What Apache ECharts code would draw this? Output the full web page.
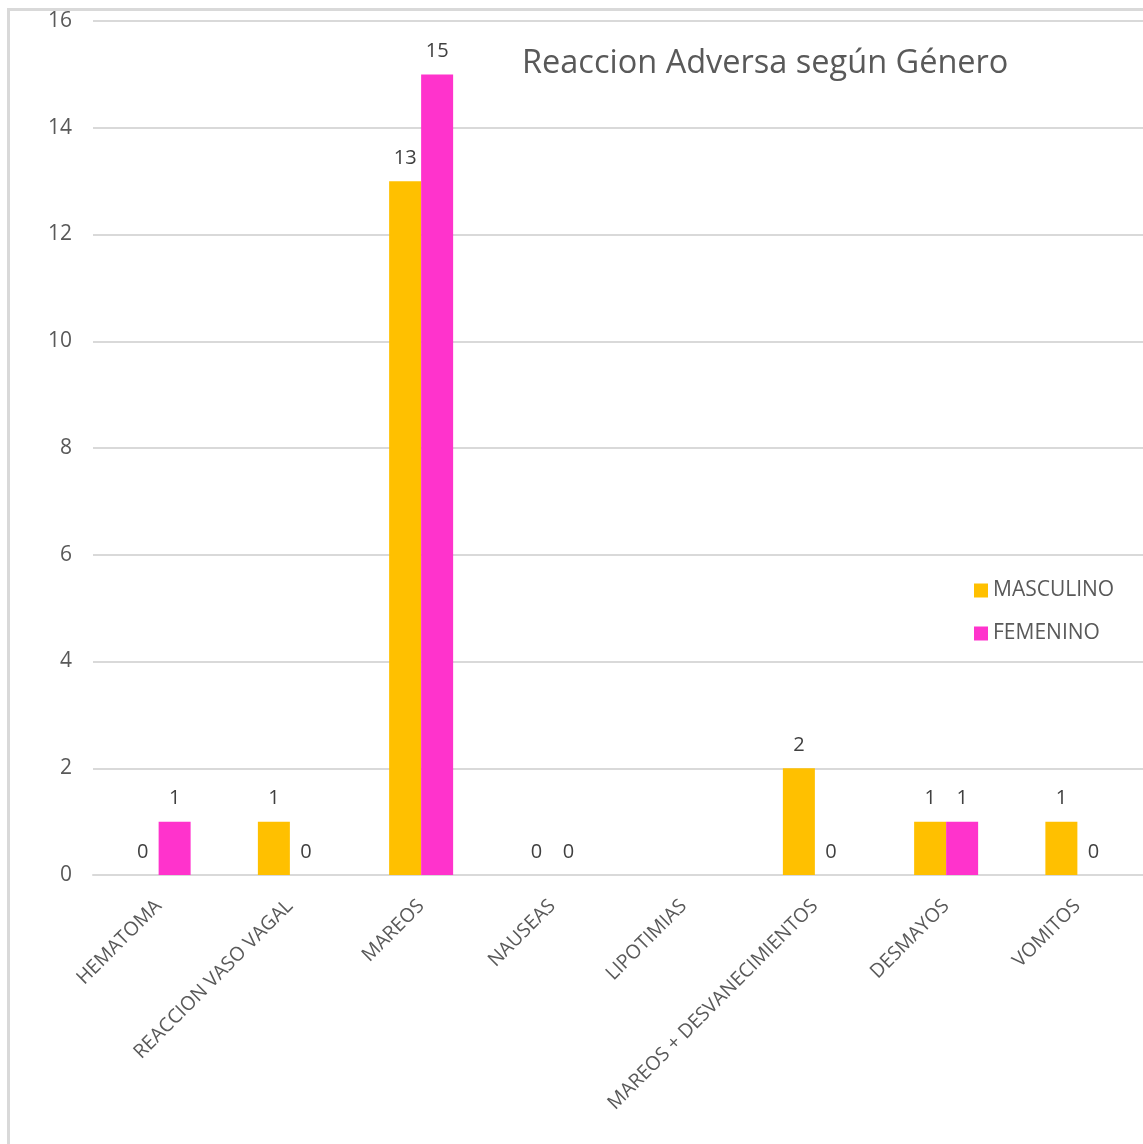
<!DOCTYPE html>
<html><head><meta charset="utf-8">
<script src="https://cdn.jsdelivr.net/npm/echarts@6/dist/echarts.min.js"></script>
<style>html,body{margin:0;padding:0;background:#fff;}#c{width:1143px;height:1144px;}</style>
</head><body><div id="c"></div>
<script>
const categories = ['HEMATOMA','REACCION VASO VAGAL','MAREOS','NAUSEAS','LIPOTIMIAS','MAREOS + DESVANECIMIENTOS','DESMAYOS','VOMITOS'];
const masculino = [0, 1, 13, 0, null, 2, 1, 1];
const femenino = [1, 0, 15, 0, null, 0, 1, 0];
const yTicks = {min: 0, max: 16, interval: 2};
const FONT = '"Open Sans", "Noto Sans", sans-serif';
const chart = echarts.init(document.getElementById('c'));
const labelCfg = {show: true, position: 'top', distance: 13, color: '#404040', fontSize: 20, fontFamily: FONT};
chart.setOption({
  animation: false,
  textStyle: {fontFamily: FONT},
  title: {text: 'Reaccion Adversa según Género', left: 517, top: 42,
    textStyle: {fontSize: 32.5, fontWeight: 'normal', color: '#595959', fontFamily: FONT}},
  legend: {orient: 'vertical', left: 969, top: 575, itemWidth: 14, itemHeight: 14, itemGap: 22, icon: 'rect',
    textStyle: {fontSize: 21, color: '#595959', fontFamily: FONT}, data: ['MASCULINO','FEMENINO']},
  grid: {left: 93, right: -2, top: 21, bottom: 269, containLabel: false},
  xAxis: {type: 'category', data: categories,
    axisLine: {lineStyle: {color: '#d9d9d9', width: 2}}, axisTick: {show: false},
    axisLabel: {rotate: 45, interval: 0, fontSize: 19.5, color: '#595959', margin: 28, fontFamily: FONT}},
  yAxis: {type: 'value', min: yTicks.min, max: yTicks.max, interval: yTicks.interval,
    axisLine: {show: false}, axisTick: {show: false},
    axisLabel: {fontSize: 21, color: '#595959', margin: 21, fontFamily: FONT},
    splitLine: {lineStyle: {color: '#d9d9d9', width: 2}}},
  graphic: [{type: 'rect', left: 6, top: 7, shape: {width: 1200, height: 1200}, style: {fill: 'none', stroke: '#d9d9d9', lineWidth: 3}, z: -1}],
  series: [
    {name: 'MASCULINO', type: 'bar', data: masculino, barWidth: 32, barGap: '0%', itemStyle: {color: '#ffc000'}, label: labelCfg},
    {name: 'FEMENINO', type: 'bar', data: femenino, barWidth: 32, barGap: '0%', itemStyle: {color: '#ff33cc'}, label: labelCfg}
  ]
});
</script></body></html>
